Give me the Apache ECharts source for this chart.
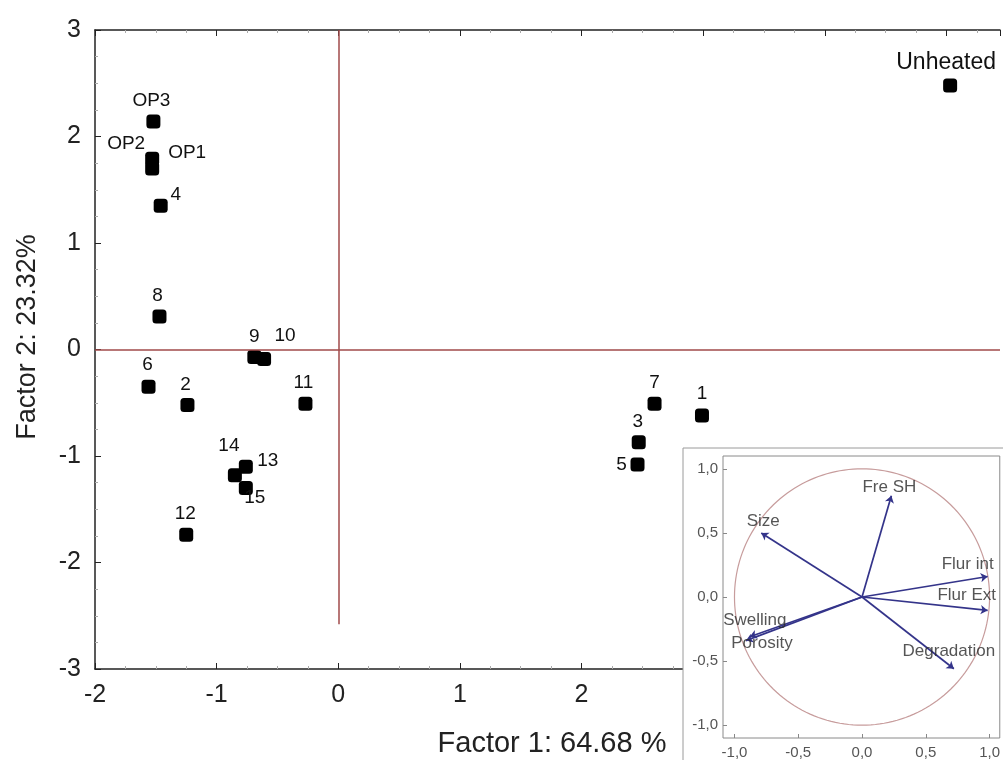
<!DOCTYPE html>
<html>
<head>
<meta charset="utf-8">
<script src="https://cdn.jsdelivr.net/npm/echarts@6/dist/echarts.min.js"></script>
<style>html,body{margin:0;padding:0;background:#fff;}#chart{width:1003px;height:760px;}</style>
</head>
<body>
<div id="chart"></div>
<script>
// ---- Main score plot data ----
const categories = ['Unheated','OP3','OP2','OP1','4','8','6','2','9','10','11','14','13','15','12','7','1','3','5'];
const factor1 = [5.03,-1.52,-1.53,-1.53,-1.46,-1.47,-1.56,-1.24,-0.69,-0.61,-0.27,-0.85,-0.76,-0.76,-1.25,2.60,2.99,2.47,2.46];
const factor2 = [2.48,2.14,1.79,1.70,1.35,0.31,-0.35,-0.52,-0.07,-0.09,-0.51,-1.18,-1.10,-1.30,-1.74,-0.51,-0.62,-0.87,-1.08];
const xTickLabels = ['-2','-1','0','1','2'];
const yTickLabels = ['-3','-2','-1','0','1','2','3'];

// ---- Inset loading plot data ----
const varNames = ['Fre SH','Size','Flur int','Flur Ext','Degradation','Swelling','Porosity'];
const loadX = [0.23,-0.79,0.985,0.985,0.72,-0.88,-0.91];
const loadY = [0.79,0.50,0.16,-0.105,-0.56,-0.31,-0.34];
const insetTicks = [-1,-0.5,0,0.5,1];

// label placement (text centre offset from mark, px)
const labelOffset = {
  'Unheated':[-4,-23],'OP3':[-2,-21],'OP2':[-26,-15],'OP1':[35,-16],'4':[15,-11],'8':[-2,-21],
  '6':[-1,-22],'2':[-2,-20],'9':[0,-20],'10':[21,-23],'11':[-2,-21],'14':[-6,-29],'13':[22,-6],
  '15':[9,10],'12':[-1,-21],'7':[0,-21],'1':[0,-22],'3':[-1,-20],'5':[-16,0]
};
const varLabelOffset = {
  'Fre SH':[-2,-8],'Size':[2,-12],'Flur int':[-20,-12],'Flur Ext':[-21,-15],
  'Degradation':[-5,-17],'Swelling':[5,-16],'Porosity':[16,3]
};

const FONT = 'Liberation Sans, Arial, sans-serif';
const chart = echarts.init(document.getElementById('chart'));
const X_MAX = 5.44;

const option = {
  animation: false,
  backgroundColor: '#fff',
  textStyle: { fontFamily: FONT },
  grid: [
    { left: 95, top: 30, width: 908, height: 639, show: false },
    { left: 723, top: 456, width: 280, height: 284, show: true, borderColor: '#8a8a8a', borderWidth: 1, backgroundColor: 'rgba(0,0,0,0)', z: 20 }
  ],
  xAxis: [
    {
      gridIndex: 0, type: 'value', min: -2, max: X_MAX, interval: 1, position: 'bottom',
      axisLine: { show: true, onZero: false, lineStyle: { color: '#222', width: 1.5 } },
      axisTick: { show: true, inside: true, length: 6, lineStyle: { color: '#222' } },
      minorTick: { show: true, splitNumber: 4, length: 3, lineStyle: { color: '#aaa' } },
      splitLine: { show: false },
      axisLabel: { fontSize: 25, color: '#222', margin: 14, fontFamily: FONT,
        formatter: v => (xTickLabels.indexOf(String(v)) >= 0 ? String(v) : '') }
    },
    {
      gridIndex: 0, type: 'value', min: -2, max: X_MAX, interval: 1, position: 'top',
      axisLine: { show: true, onZero: false, lineStyle: { color: '#222', width: 1.5 } },
      axisTick: { show: true, inside: true, length: 6, lineStyle: { color: '#222' } },
      minorTick: { show: true, splitNumber: 4, length: 3, lineStyle: { color: '#aaa' } },
      splitLine: { show: false },
      axisLabel: { show: false }
    },
    {
      gridIndex: 1, type: 'value', min: -1.09, max: 1.08, z: 20,
      axisLine: { show: false, onZero: false },
      axisTick: { show: true, inside: true, length: 4, customValues: insetTicks, lineStyle: { color: '#888' } },
      splitLine: { show: false },
      axisLabel: { customValues: insetTicks, fontSize: 15, color: '#555', margin: 7, fontFamily: FONT,
        formatter: v => Number(v).toFixed(1).replace('.', ',') }
    }
  ],
  yAxis: [
    {
      gridIndex: 0, type: 'value', min: -3, max: 3, interval: 1,
      axisLine: { show: true, onZero: false, lineStyle: { color: '#222', width: 1.5 } },
      axisTick: { show: true, inside: true, length: 6, lineStyle: { color: '#222' } },
      minorTick: { show: true, splitNumber: 4, length: 3, lineStyle: { color: '#aaa' } },
      splitLine: { show: false },
      axisLabel: { fontSize: 25, color: '#222', margin: 14, fontFamily: FONT,
        formatter: v => (yTickLabels.indexOf(String(v)) >= 0 ? String(v) : '') }
    },
    {
      gridIndex: 1, type: 'value', min: -1.1, max: 1.1, z: 20,
      axisLine: { show: false, onZero: false },
      axisTick: { show: true, inside: true, length: 4, customValues: insetTicks, lineStyle: { color: '#888' } },
      splitLine: { show: false },
      axisLabel: { customValues: insetTicks, fontSize: 15, color: '#555', margin: 5, fontFamily: FONT,
        formatter: v => Number(v).toFixed(1).replace('.', ',') }
    }
  ],
  graphic: [
    { type: 'rect', z: 10, shape: { x: 683, y: 448, width: 340, height: 330 },
      style: { fill: '#fff', stroke: '#9a9a9a', lineWidth: 1 } },
    { type: 'text', z: 5, x: 552, y: 744,
      style: { text: 'Factor 1: 64.68 %', font: '29px ' + FONT, fill: '#222', textAlign: 'center', textVerticalAlign: 'middle' } },
    { type: 'text', z: 5, x: 28, y: 337, rotation: Math.PI / 2,
      style: { text: 'Factor 2: 23.32%', font: '27px ' + FONT, fill: '#222', textAlign: 'center', textVerticalAlign: 'middle' } }
  ],
  series: [
    {
      type: 'scatter', xAxisIndex: 0, yAxisIndex: 0, z: 3,
      symbol: 'roundRect', symbolSize: 14,
      itemStyle: { color: '#000', opacity: 1 },
      label: { show: true, position: 'inside', formatter: '{b}', color: '#111', fontSize: 19, fontFamily: FONT, textBorderWidth: 0 },
      data: categories.map((c, i) => ({
        name: c, value: [factor1[i], factor2[i]],
        label: { offset: labelOffset[c], fontSize: c === 'Unheated' ? 23 : 19 }
      })),
      markLine: {
        silent: true, symbol: 'none', animation: false,
        label: { show: false },
        lineStyle: { color: '#a04a4a', width: 1.5, type: 'solid' },
        data: [
          [{ coord: [0, 3] }, { coord: [0, -2.58] }],
          [{ coord: [-2, 0] }, { coord: [X_MAX, 0] }]
        ]
      }
    },
    {
      type: 'custom', xAxisIndex: 2, yAxisIndex: 1, z: 21, silent: true,
      data: [[0, 0]],
      renderItem: function (params, api) {
        const pts = [];
        for (let k = 0; k <= 180; k++) {
          const t = k / 180 * 2 * Math.PI;
          pts.push(api.coord([Math.cos(t), Math.sin(t)]));
        }
        return { type: 'polyline', shape: { points: pts }, style: { stroke: '#c79c9c', fill: null, lineWidth: 1.2 } };
      },
      markLine: {
        silent: true, symbol: 'none', animation: false,
        label: { show: false },
        lineStyle: { color: '#a89494', width: 1, type: 'solid' },
        data: [
          [{ coord: [-1, 0] }, { coord: [1, 0] }],
          [{ coord: [0, -1] }, { coord: [0, 1] }]
        ]
      }
    },
    {
      type: 'lines', coordinateSystem: 'cartesian2d', xAxisIndex: 2, yAxisIndex: 1, z: 22,
      symbol: ['none', 'arrow'], symbolSize: 7,
      lineStyle: { color: '#34348a', width: 1.7, opacity: 1 },
      data: varNames.map((n, i) => ({ coords: [[0, 0], [loadX[i], loadY[i]]] }))
    },
    {
      type: 'scatter', xAxisIndex: 2, yAxisIndex: 1, z: 23, symbolSize: 1,
      itemStyle: { color: 'rgba(0,0,0,0)' },
      label: { show: true, position: 'inside', formatter: '{b}', color: '#2b2b2b', fontSize: 17, fontFamily: FONT, textBorderWidth: 0 },
      data: varNames.map((n, i) => ({ name: n, value: [loadX[i], loadY[i]], label: { offset: varLabelOffset[n] } }))
    }
  ]
};
chart.setOption(option);
</script>
</body>
</html>
